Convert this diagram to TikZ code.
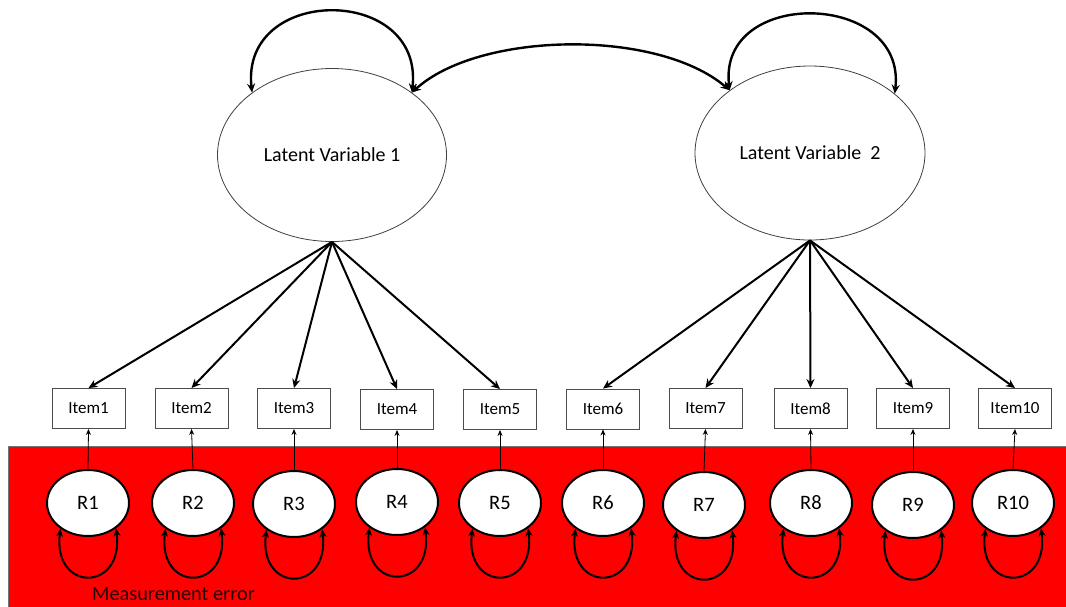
\documentclass[tikz,border=0pt]{standalone}
\usepackage{fontspec}
\setmainfont{Carlito}
\usetikzlibrary{shapes.geometric,arrows.meta}
\begin{document}
\begin{tikzpicture}[x=1pt,y=-1pt,
  latent/.style={draw=black!75,line width=0.8pt,ellipse,fill=white,inner sep=0pt,minimum width=229pt,minimum height=173pt,font=\fontsize{20}{22}\selectfont},
  itembox/.style={draw=black!70,line width=0.9pt,rectangle,fill=white,inner sep=0pt,minimum width=73pt,minimum height=40pt,font=\fontsize{17}{20}\selectfont},
  resid/.style={draw=black,line width=2pt,ellipse,fill=white,inner sep=0pt,minimum width=82pt,minimum height=66pt,font=\fontsize{20.5}{22}\selectfont},
  load/.style={line width=2pt,-{Stealth[length=9pt,width=8pt]}},
  cov/.style={line width=2.4pt,{Stealth[length=9pt,width=8pt]}-{Stealth[length=9pt,width=8pt]}},
  rcov/.style={line width=2pt,{Stealth[length=8pt,width=7pt]}-{Stealth[length=8pt,width=7pt]}},
  rpath/.style={line width=0.8pt,-{Stealth[length=6pt,width=5pt]}}
]
\useasboundingbox (0,0) rectangle (1066,606);
\fill[white] (0,0) rectangle (1066,606);
% red measurement error background
\draw[fill={rgb,255:red,255;green,0;blue,0},draw=black!55,line width=0.9pt] (8,446) rectangle (1070,610);
\node[anchor=base west,font=\fontsize{20.3}{22}\selectfont,text={rgb,255:red,40;green,0;blue,0},inner sep=0pt] (merr) at (92,600) {Measurement error};

% latent variables
\node[latent] (LV1) at (332,155) {Latent Variable 1};
\node[latent,minimum width=230pt,minimum height=174pt] (LV2) at (810,153) {Latent Variable\ \ 2};

% items
\foreach \i/\x/\y in {1/88.5/408.5,2/191.5/408.5,3/294/408.5,4/397/409.5,5/500/409.5,6/603/409,7/705.5/408.5,8/810.5/408.5,9/913/408.5,10/1015/408.5}{
  \node[itembox] (I\i) at (\x,\y) {Item\i};
}
% residuals
\foreach \i/\x/\y in {1/88/503,2/193/503,3/294/504,4/397/502,5/500/503,6/603/503,7/704/505,8/811/503,9/913/505,10/1013/503}{
  \node[resid] (R\i) at (\x,\y) {R\i};
}

% loadings
\foreach \i in {1,...,5}{\draw[load] (LV1.south) -- (I\i.north);}
\foreach \i in {6,...,10}{\draw[load] (LV2.south) -- (I\i.north);}

% residual paths and variances
\foreach \i in {1,...,10}{
  \draw[rpath] (R\i.north) -- (I\i.south);
  \draw[rcov] (R\i.223) .. controls +(-8,64) and +(8,64) .. (R\i.318);
}

% latent variances and covariance
\draw[cov] (LV1.142) .. controls +(-12,-108) and +(12,-108) .. (LV1.38);
\draw[cov] (LV2.142) .. controls +(-12,-103) and +(12,-103) .. (LV2.35);
\draw[cov] (LV1.38) .. controls +(67,-61) and +(-73,-62) .. (LV2.142);
\end{tikzpicture}
\end{document}
